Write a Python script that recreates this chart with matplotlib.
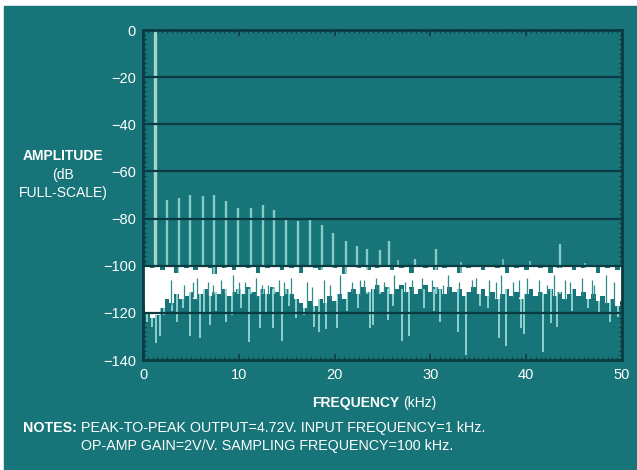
import matplotlib
matplotlib.use("Agg")
import matplotlib.pyplot as plt
from matplotlib.patches import Rectangle
import numpy as np

plt.rcParams['font.family'] = ['Liberation Sans', 'DejaVu Sans']

# --- data ---
# harmonic spurs (kHz, dB full-scale)
harm_freq = [1.25, 2.47, 3.76, 4.9, 6.23, 7.41, 8.66, 9.92, 11.24, 12.5,
             13.67, 14.93, 16.18, 17.43, 18.65, 19.86, 21.19, 22.37, 23.35,
             24.74, 25.71, 28.4, 30.6, 43.5]
harm_peak = [0, -72.1, -71.4, -70.0, -70.6, -70.2, -72.5, -75.6, -75.6, -74.2,
             -76.3, -80.5, -81.0, -80.5, -82.8, -86.0, -89.5, -91.6, -93.0,
             -93.5, -89.5, -97.2, -93.0, -90.9]

# noise floor band, every 0.5 kHz from 0 to 50
noise_freq = [i * 0.5 for i in range(101)]
noise_top = [-100.6, -100.6, -101, -100.6, -102, -100.6, -100.6, -103, -100.6, -101,
             -100.6, -102, -100.6, -100.6, -101, -103.5, -100.6, -101, -100.6, -102,
             -100.6, -100.6, -101, -100.6, -103, -100.6, -101, -100.6, -100.6, -102,
             -100.6, -101, -100.6, -103, -100.6, -100.6, -101, -102, -100.6, -100.6,
             -101, -100.6, -103.5, -100.6, -100.6, -101, -100.6, -102, -100.6, -101,
             -100.6, -100.6, -102, -100.6, -101, -100.6, -103, -100.6, -100.6, -101,
             -100.6, -102, -100.6, -101, -100.6, -100.6, -103, -100.6, -101, -100.6,
             -100.6, -102, -100.6, -100.6, -101, -100.6, -103, -100.6, -101, -100.6,
             -102, -100.6, -100.6, -101, -100.6, -103, -100.6, -101, -100.6, -100.6,
             -102, -100.6, -101, -100.6, -100.6, -103, -100.6, -101, -100.6, -102, -100.6]
noise_bottom = [-116, -120, -122, -121, -118, -114, -116, -112, -114, -113,
                -111, -114, -112, -110, -113, -111, -112, -110, -113, -111,
                -110, -112, -109, -111, -113, -110, -112, -109, -111, -113,
                -110, -112, -114, -116, -118, -115, -117, -114, -116, -113,
                -115, -112, -114, -111, -110, -112, -109, -111, -110, -108,
                -111, -109, -112, -110, -108, -111, -109, -112, -110, -108,
                -111, -109, -110, -112, -109, -111, -110, -113, -111, -109,
                -112, -110, -113, -111, -114, -112, -110, -113, -111, -114,
                -112, -110, -113, -111, -112, -110, -113, -111, -114, -112,
                -110, -113, -111, -114, -112, -115, -113, -116, -114, -117, -115]

# downward noise spikes (kHz, dB)
spike_freq = [1.4, 1.75, 3.5, 4.9, 5.9, 7.0, 8.7, 11.1, 12.2, 13.6, 14.5, 16.0,
              17.9, 18.4, 19.1, 20.2, 23.7, 24.0, 25.6, 27.0, 27.8, 31.0, 32.9,
              33.7, 37.2, 37.9, 39.5, 39.8, 41.8, 42.6, 43.2, 48.7, 49.6,
              0.4, 0.9, 2.2, 3.0, 4.2, 6.4, 7.6, 9.3, 10.2, 12.8, 15.2, 16.8,
              21.3, 22.4, 26.1, 29.3, 30.4, 35.2, 36.0, 44.8, 46.5, 47.6]
spike_depth = [-132.9, -130, -123.8, -130, -130.7, -125, -123.8, -132.2, -126.6,
               -126.6, -132, -122, -125.9, -128, -127, -126.6, -126.6, -125.2,
               -123, -132, -130, -123.8, -128, -138, -130.7, -134.2, -126.6,
               -128.8, -136.4, -124.4, -125.9, -123.8, -121.6,
               -124, -126, -121, -119, -118, -120, -119, -121, -118, -120, -117,
               -121, -119, -118, -117, -118, -119, -117, -118, -119, -118, -120]

# small spurs poking above the noise (kHz, dB)
up_freq = [26.6, 33.2, 37.6, 40.4, 46.1]
up_peak = [-97.5, -98.5, -97.3, -98.2, -98.8]

# teal gaps rising into the white band (kHz, dB reached from below)
notch_freq = [2.9, 4.3, 5.2, 5.6, 6.8, 7.3, 8.1, 9.4, 10.0, 10.6, 11.8, 12.4,
              13.1, 14.2, 14.7, 15.4, 17.1, 17.6, 18.9, 19.5, 20.6, 21.8, 22.6,
              23.1, 24.3, 25.2, 26.2, 27.4, 28.1, 29.1, 30.2, 31.3, 31.8, 33.0,
              34.3, 34.8, 36.1, 36.8, 37.4, 38.6, 39.2, 40.1, 41.3, 42.2, 42.9,
              44.1, 44.6, 45.8, 46.9, 47.1, 48.3, 49.2]
notch_top = [-106, -108, -107, -105, -107, -108, -106, -104, -107, -107, -105, -108,
             -108, -106, -107, -105, -107, -109, -106, -108, -104, -107, -106,
             -106, -105, -107, -104, -107, -106, -105, -106, -108, -104, -107,
             -106, -105, -106, -107, -104, -107, -106, -105, -106, -108, -104,
             -106, -107, -105, -106, -108, -104, -107]

x_ticks = [0, 10, 20, 30, 40, 50]
y_ticks = [0, -20, -40, -60, -80, -100, -120, -140]

teal = '#177478'
dark = '#0b3a40'
spur = '#86cbc7'

W, H = 637, 470
fig = plt.figure(figsize=(W / 100, H / 100), dpi=100)
fig.patch.set_facecolor('white')
fig.patches.append(Rectangle((4 / W, 0), 1, 1 - 6 / H, transform=fig.transFigure,
                             color=teal, zorder=-5))

ax = fig.add_axes([143 / W, 1 - 360 / H, 479 / W, 330 / H])
ax.set_facecolor(teal)

# harmonics behind the noise
ax.vlines(harm_freq[1:], -112, harm_peak[1:], color=spur, lw=1.7, zorder=2)
ax.vlines(harm_freq[0], -112, harm_peak[0], color='#a2d6d0', lw=2.4, zorder=2)
ax.vlines(up_freq, -105, up_peak, color=spur, lw=1.1, zorder=2)

# noise floor
ax.vlines(spike_freq, -110, spike_depth, color='#a3e0dc', lw=1.2, zorder=3)
ax.fill_between(noise_freq, noise_bottom, noise_top, step='mid',
                color='white', lw=0, zorder=4)
ax.vlines(notch_freq, np.interp(notch_freq, noise_freq, noise_bottom) - 1,
          notch_top, color='#2f8a8c', lw=0.9, zorder=4.5)

for y in y_ticks[1:-1]:
    ax.axhline(y, color=dark, lw=1.6, zorder=5)

ax.set_xlim(0, 50)
ax.set_ylim(-140, 0)
ax.set_xticks(x_ticks)
ax.set_yticks(y_ticks)
ax.set_yticklabels(['0' if v == 0 else '\u2212%d' % -v for v in y_ticks])
ax.set_yticks(np.arange(-140, 1, 2), minor=True)
ax.set_xticks(np.arange(0, 50.1, 0.5), minor=True)
ax.tick_params(axis='both', which='major', direction='in', length=4, width=1.2,
               color=dark, labelcolor='white', labelsize=10.5,
               top=True, right=True)
ax.tick_params(axis='both', which='minor', direction='in', length=2, width=0.8,
               color=dark, top=True, right=True)
ax.tick_params(axis='y', pad=5)
ax.tick_params(axis='x', pad=6)
for s in ax.spines.values():
    s.set_color(dark)
    s.set_linewidth(2)
    s.set_zorder(6)


def px(x, y):
    return x / W, 1 - y / H


fs = 10.3
fig.text(*px(63, 156), 'AMPLITUDE', color='white', fontsize=10, weight='bold',
         ha='center', va='center')
fig.text(*px(63, 175), '(dB', color='white', fontsize=10, ha='center', va='center')
fig.text(*px(63, 193), 'FULL-SCALE)', color='white', fontsize=10, ha='center',
         va='center')

fig.text(*px(399, 403), 'FREQUENCY', color='white', fontsize=10, weight='bold',
         ha='right', va='center')
fig.text(*px(403, 403), '(kHz)', color='white', fontsize=10, ha='left', va='center')

fig.text(*px(23, 428), 'NOTES:', color='white', fontsize=fs, weight='bold',
         ha='left', va='center')
fig.text(*px(81, 428), 'PEAK-TO-PEAK OUTPUT=4.72V. INPUT FREQUENCY=1 kHz.',
         color='white', fontsize=fs, ha='left', va='center')
fig.text(*px(81, 446), 'OP-AMP GAIN=2V/V. SAMPLING FREQUENCY=100 kHz.',
         color='white', fontsize=fs, ha='left', va='center')

fig.savefig('out.png', dpi=100, facecolor=fig.get_facecolor())
